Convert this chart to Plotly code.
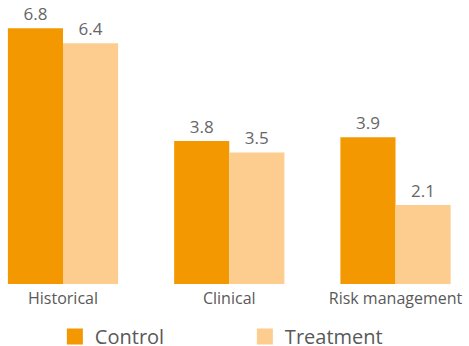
import plotly.graph_objects as go

categories = ["Historical", "Clinical", "Risk management"]
control = [6.8, 3.8, 3.9]
treatment = [6.4, 3.5, 2.1]
series_names = ["Control", "Treatment"]
colors = ["#F39800", "#FCCD8F"]

fig = go.Figure()
for name, vals, col in zip(series_names, [control, treatment], colors):
    fig.add_trace(go.Bar(
        x=categories, y=vals, name=name, marker_color=col, marker_line_width=0,
        text=[f"{v:.1f}" for v in vals], textposition="outside",
        textfont=dict(size=17, color="#666666"), cliponaxis=False,
        showlegend=False,
    ))
    fig.add_trace(go.Scatter(
        x=[None], y=[None], mode="markers", name=name,
        marker=dict(symbol="square", size=17, color=col),
    ))

fig.update_layout(
    width=469, height=346,
    margin=dict(l=0, r=0, t=0, b=62, autoexpand=False),
    paper_bgcolor="white", plot_bgcolor="white",
    barmode="group", bargap=0.337, bargroupgap=0,
    font=dict(family="Open Sans", color="#595959"),
    xaxis=dict(range=[-0.379, 2.442], showgrid=False, showline=False,
               ticks="", tickfont=dict(size=16, color="#595959"),
               ticklabelstandoff=3, automargin=False),
    yaxis=dict(range=[0, 7.553], visible=False, showgrid=False, zeroline=False),
    legend=dict(orientation="h", x=0.117, xanchor="left", y=-0.116, yanchor="top",
                font=dict(size=20, color="#595959"), entrywidth=145,
                entrywidthmode="pixels", itemsizing="trace",
                bgcolor="rgba(0,0,0,0)"),
)

fig.write_html(
    "out.html",
    config={"displayModeBar": False},
    post_script="document.body.style.margin='0';document.body.style.overflow='hidden';",
)
